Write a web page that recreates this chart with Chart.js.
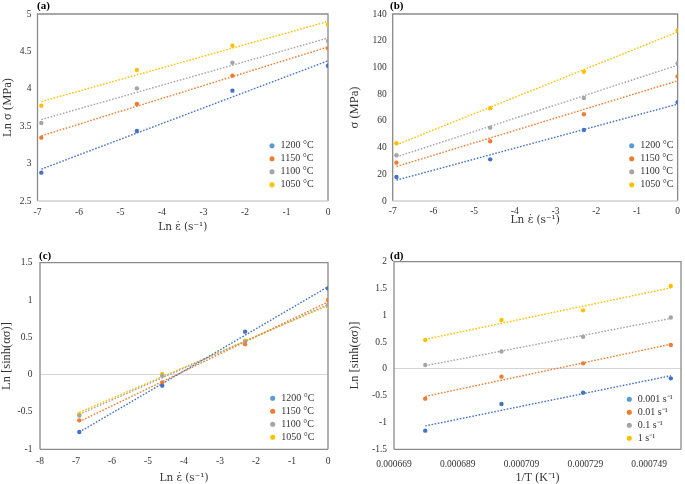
<!doctype html>
<html lang="en">

<head>
    <meta charset="utf-8">
    <title>Constitutive analysis plots</title>
    <style>
        body { margin: 0; background: #fff; }
        #page { position: relative; width: 685px; height: 484px; background: #fff; overflow: hidden; }
        .panel { position: absolute; }
        .tag { position: absolute; font: bold 11px 'Liberation Serif', 'Times New Roman', serif; line-height: 11px; color: #000; }
    </style>
</head>

<body>
    <div id="page">
        <div class="panel" style="left:0;top:0"><canvas id="chartA" width="340" height="240"></canvas></div>
        <div class="panel" style="left:340px;top:0"><canvas id="chartB" width="345" height="240"></canvas></div>
        <div class="panel" style="left:0;top:240px"><canvas id="chartC" width="340" height="244"></canvas></div>
        <div class="panel" style="left:340px;top:240px"><canvas id="chartD" width="345" height="244"></canvas></div>
        <div class="tag" style="left:37px;top:0">(a)</div>
        <div class="tag" style="left:390px;top:0">(b)</div>
        <div class="tag" style="left:39px;top:250px">(c)</div>
        <div class="tag" style="left:390px;top:250px">(d)</div>
    </div>

    <script src="https://cdn.jsdelivr.net/npm/chart.js@4.4.0/dist/chart.umd.min.js"></script>
    <script>
        // strain rates 0.001, 0.01, 0.1, 1 s^-1 -> ln values
        const lnRate = [-6.908, -4.605, -2.303, 0];
        const tempLabels = ['1200 °C', '1150 °C', '1100 °C', '1050 °C'];

        // (a) ln sigma, one row per temperature
        const lnSigma = [
            [2.879, 3.436, 3.975, 4.309],
            [3.347, 3.797, 4.176, 4.541],
            [3.543, 4.006, 4.349, 4.639],
            [3.775, 4.251, 4.577, 4.857]
        ];
        const lnSigmaTrend = [[2.926, 4.374], [3.371, 4.559], [3.589, 4.679], [3.829, 4.901]];

        // (b) sigma in MPa
        const sigma = [
            [18.0, 31.2, 53.2, 73.9],
            [28.7, 44.7, 64.9, 93.3],
            [34.2, 54.9, 77.1, 103.1],
            [43.2, 69.4, 96.8, 127.8]
        ];
        const sigmaTrend = [[15.6, 72.5], [25.8, 90.0], [33.0, 101.7], [42.1, 126.5]];

        // (c) ln sinh(alpha sigma) vs ln strain rate
        const lnSinhRate = [
            [-0.768, -0.147, 0.576, 1.156],
            [-0.612, -0.103, 0.406, 1.0],
            [-0.549, -0.013, 0.442, 0.933],
            [-0.531, 0.009, 0.455, 0.911]
        ];
        const lnSinhRateTrend = [[-0.770, 1.178], [-0.629, 0.975], [-0.532, 0.938], [-0.505, 0.927]];

        // (d) ln sinh(alpha sigma) vs 1/T, one row per strain rate
        const invT = [0.0006788, 0.0007027, 0.0007283, 0.0007558];
        const rateLabels = ['0.001 s⁻¹', '0.01 s⁻¹', '0.1 s⁻¹', '1 s⁻¹'];
        const lnSinhTemp = [
            [-1.152, -0.655, -0.443, -0.176],
            [-0.555, -0.145, 0.104, 0.445],
            [0.073, 0.326, 0.60, 0.96],
            [0.539, 0.912, 1.092, 1.546]
        ];
        const lnSinhTempTrend = [[-1.064, -0.127], [-0.513, 0.460], [0.059, 0.941], [0.552, 1.514]];
        const invTTicks = [0.000669, 0.000689, 0.000709, 0.000729, 0.000749];

        const SERIF = "'Liberation Serif', 'Times New Roman', serif";
        const MATH = "'DejaVu Serif', serif";
        const pointColors = ['#4472C4', '#ED7D31', '#A5A5A5', '#FFC000'];
        const legendColors = ['#5B9BD5', '#ED7D31', '#A5A5A5', '#FFC000'];
        const TEXT = '#333';

        const framePlugin = {
            id: 'frame',
            beforeDatasetsDraw(chart, args, opts) {
                const { left, top, right, bottom } = chart.chartArea;
                const c = chart.ctx;
                c.save();
                c.lineWidth = 1.3;
                c.strokeStyle = '#8a8a8a';
                c.beginPath();
                c.moveTo(left, bottom);
                c.lineTo(left, top);
                c.lineTo(right, top);
                c.lineTo(right, bottom);
                c.stroke();
                c.strokeStyle = opts.bottomColor || '#8a8a8a';
                c.beginPath();
                c.moveTo(left, bottom);
                c.lineTo(right, bottom);
                c.stroke();
                c.restore();
            }
        };

        // put the chartArea legend where Excel had it (bottom right, inside plot)
        const legendPlace = {
            id: 'legendPlace',
            afterLayout(chart, args, opts) {
                const lg = chart.legend;
                if (!lg) return;
                lg.left = opts.x;
                lg.right = opts.x + lg.width;
                lg.top = opts.y;
                lg.bottom = opts.y + lg.height;
            }
        };

        const plainNum = v => String(Number(v.toFixed(3)));

        function makeChart(id, p) {
            const datasets = [];
            p.values.forEach((ys, i) => {
                datasets.push({
                    label: p.labels[i],
                    data: p.xs.map((x, j) => ({ x: x, y: ys[j] })),
                    backgroundColor: pointColors[i],
                    borderColor: pointColors[i],
                    pointRadius: 2.2,
                    pointBorderWidth: 0,
                    showLine: false
                });
            });
            p.trends.forEach((t, i) => {
                datasets.push({
                    label: 'trend ' + i,
                    data: [{ x: p.xs[0], y: t[0] }, { x: p.xs[p.xs.length - 1], y: t[1] }],
                    borderColor: pointColors[i],
                    borderWidth: 1.4,
                    borderDash: [1.6, 1.6],
                    pointRadius: 0,
                    showLine: true
                });
            });

            const tickFont = { family: SERIF, size: 9.5 };
            const xScale = {
                type: 'linear',
                min: p.x.min,
                max: p.x.max,
                ticks: { stepSize: p.x.step, font: tickFont, color: TEXT, padding: p.x.tickPad, maxRotation: 0, autoSkip: false, callback: plainNum },
                grid: { display: false, drawTicks: false },
                border: { display: false },
                title: { display: true, text: p.x.title, font: { family: p.x.titleFont || SERIF, size: p.x.titleSize || 12, lineHeight: 1 }, color: TEXT, padding: { top: 0, bottom: p.x.titlePad } },
                afterFit: s => { s.height = p.x.height; }
            };
            if (p.x.ticks) {
                xScale.afterBuildTicks = s => { s.ticks = p.x.ticks.map(v => ({ value: v })); };
                xScale.ticks.callback = v => v.toFixed(6);
            }
            const yScale = {
                type: 'linear',
                min: p.y.min,
                max: p.y.max,
                ticks: { stepSize: p.y.step, font: tickFont, color: TEXT, padding: p.y.tickPad, callback: plainNum },
                grid: {
                    display: !!p.zeroLine,
                    drawTicks: false,
                    lineWidth: 1,
                    color: ctx => (ctx.tick && ctx.tick.value === 0) ? '#d4d4d4' : 'rgba(0,0,0,0)'
                },
                border: { display: false },
                title: { display: true, text: p.y.title, font: { family: SERIF, size: 12.5, lineHeight: 1 }, color: TEXT, padding: { top: p.y.titlePad, bottom: 0 } },
                afterFit: s => { s.width = p.y.width; }
            };

            return new Chart(document.getElementById(id), {
                type: 'scatter',
                data: { datasets: datasets },
                options: {
                    responsive: false,
                    animation: false,
                    devicePixelRatio: 1,
                    layout: { padding: p.pad },
                    scales: { x: xScale, y: yScale },
                    plugins: {
                        tooltip: { enabled: false },
                        frame: { bottomColor: p.bottomColor },
                        legendPlace: { x: p.legend.x, y: p.legend.y },
                        legend: {
                            position: 'chartArea',
                            align: 'start',
                            labels: {
                                usePointStyle: true,
                                pointStyle: 'circle',
                                boxWidth: 7,
                                boxHeight: 3.6,
                                padding: 3,
                                color: TEXT,
                                font: { family: SERIF, size: 10 },
                                generateLabels: chart => {
                                    const items = Chart.defaults.plugins.legend.labels.generateLabels(chart);
                                    items.forEach(it => {
                                        if (it.datasetIndex < 4) {
                                            it.fillStyle = legendColors[it.datasetIndex];
                                            it.strokeStyle = legendColors[it.datasetIndex];
                                            it.lineWidth = 0;
                                        }
                                    });
                                    return items;
                                },
                                filter: it => it.datasetIndex < 4
                            }
                        }
                    }
                },
                plugins: [framePlugin, legendPlace]
            });
        }

        makeChart('chartA', {
            xs: lnRate, values: lnSigma, trends: lnSigmaTrend, labels: tempLabels,
            pad: { left: 0, top: 14, right: 12, bottom: 0 },
            x: { min: -7, max: 0, step: 1, title: 'Ln ε̇ (s⁻¹)', titleFont: MATH, titleSize: 10.5, height: 39, tickPad: 6, titlePad: 7 },
            y: { min: 2.5, max: 5, step: 0.5, title: 'Ln σ (MPa)', width: 37.5, tickPad: 6, titlePad: 1 },
            legend: { x: 265.5, y: 137.7 },
            bottomColor: '#cfcfcf'
        });

        makeChart('chartB', {
            xs: lnRate, values: sigma, trends: sigmaTrend, labels: tempLabels,
            pad: { left: 0, top: 14, right: 2, bottom: 0 },
            x: { min: -7, max: 0, step: 1, title: 'Ln ε̇ (s⁻¹)', titleFont: MATH, titleSize: 10.5, height: 39, tickPad: 5, titlePad: 14 },
            y: { min: 0, max: 140, step: 20, title: 'σ (MPa)', width: 52.7, tickPad: 6, titlePad: 8 },
            legend: { x: 285.2, y: 137.7 },
            bottomColor: '#cfcfcf'
        });

        makeChart('chartC', {
            xs: lnRate, values: lnSinhRate, trends: lnSinhRateTrend, labels: tempLabels,
            pad: { left: 0, top: 22.7, right: 12, bottom: 0 },
            x: { min: -8, max: 0, step: 1, title: 'Ln ε̇ (s⁻¹)', titleFont: MATH, titleSize: 10.5, height: 34.7, tickPad: 6, titlePad: 0 },
            y: { min: -1, max: 1.5, step: 0.5, title: 'Ln [sinh(ασ)]', width: 40, tickPad: 7.5, titlePad: 0 },
            legend: { x: 266.2, y: 150.3 },
            zeroLine: true
        });

        makeChart('chartD', {
            xs: invT, values: lnSinhTemp, trends: lnSinhTempTrend, labels: rateLabels,
            pad: { left: 0, top: 21.7, right: 2, bottom: 0 },
            x: { min: 0.000669, max: 0.000759, step: 0.00002, ticks: invTTicks, title: '1/T (K⁻¹)', height: 34.7, tickPad: 9, titlePad: 0 },
            y: { min: -1.5, max: 2, step: 0.5, title: 'Ln [sinh(ασ)]', width: 54, tickPad: 7, titlePad: 8 },
            legend: { x: 282.8, y: 151.3 },
            zeroLine: true
        });
    </script>
</body>

</html>
